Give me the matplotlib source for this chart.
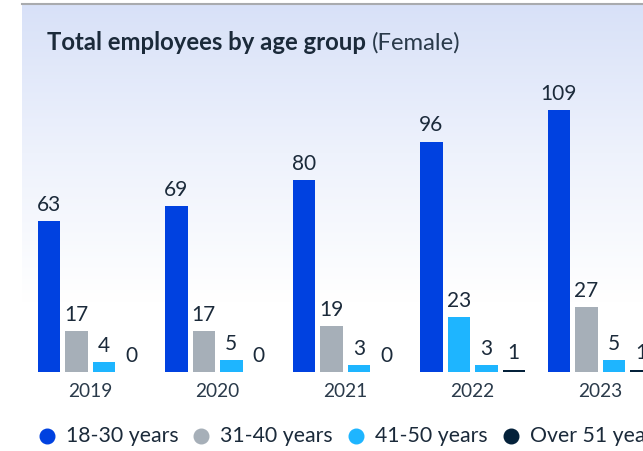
import matplotlib
matplotlib.use("Agg")
import matplotlib.pyplot as plt
import numpy as np
from matplotlib.lines import Line2D
from matplotlib.colors import LinearSegmentedColormap

years = ["2019", "2020", "2021", "2022", "2023"]
series_names = ["18-30 years", "31-40 years", "41-50 years", "Over 51 years"]
v_18_30 = [63, 69, 80, 96, 109]
v_31_40 = [17, 17, 19, 23, 27]
v_41_50 = [4, 5, 3, 3, 5]
v_over51 = [0, 0, 0, 1, 1]
series_colors = ["#0041E0", "#A6AFB8", "#1EB5FF", "#04213A"]
# in the source the 2022 31-40 bar is drawn in the 41-50 colour
bar_color_override = {(1, 3): "#1EB5FF"}

W, H = 643, 451
fig = plt.figure(figsize=(W / 100, H / 100), dpi=100)
plt.rcParams['font.family'] = ['Lato', 'DejaVu Sans']

def fx(px):
    return px / W

def fy(py):
    return 1 - py / H

# background panel with gradient
bg = fig.add_axes([fx(22), 0, 1 - fx(22), fy(4)])
cmap = LinearSegmentedColormap.from_list("g", ["#D8E1F8", "#EEF2FC", "#FFFFFF", "#FFFFFF"], N=256)
grad = np.linspace(0, 1, 256).reshape(-1, 1)
bg.imshow(grad, aspect="auto", cmap=cmap, extent=[0, 1, 0, 1], origin="upper")
bg.set_axis_off()
fig.add_artist(Line2D([fx(22), 1], [fy(3.5), fy(3.5)], color="#A9ABAE", lw=1.5))

# main axes: baseline y=372 px, scale 2.4 px/unit
base_px, top_px = 372, 60
ax = fig.add_axes([fx(22), fy(base_px), 1 - fx(22), (base_px - top_px) / H])
ax.patch.set_alpha(0)
ax.set_ylim(0, (base_px - top_px) / 2.4)
ax.set_xlim((22 - 90) / 127.5, (643 - 90) / 127.5)

pitch = 27.5 / 127.5
width = 22.5 / 127.5
x = np.arange(len(years))
all_vals = [v_18_30, v_31_40, v_41_50, v_over51]
for i, vals in enumerate(all_vals):
    xs = x + (i - 1.5) * pitch
    cols = [bar_color_override.get((i, j), series_colors[i]) for j in range(len(years))]
    ax.bar(xs, vals, width=width, color=cols, zorder=2)
    for xi, v in zip(xs, vals):
        ax.annotate(str(v), (xi, v), xytext=(0, 4.5), textcoords="offset points",
                    ha="center", va="bottom", fontsize=15, color="#1B2A3A")

ax.set_xticks(x)
ax.set_xticklabels(years, fontsize=13.8, color="#2A3A4A")
ax.tick_params(axis="x", length=0, pad=8)
ax.set_yticks([])
for s in ax.spines.values():
    s.set_visible(False)

# title
t1 = fig.text(fx(47), fy(43), "Total employees by age group", fontsize=17.2,
              fontweight="bold", color="#1B2A3A", va="center", ha="left")
fig.canvas.draw()
bb = t1.get_window_extent()
fig.text((bb.x1 + 6) / W, fy(43), "(Female)", fontsize=17.2, color="#2A3A4A",
         va="center", ha="left")

# legend drawn manually at the source's positions
dot_px = [47, 201, 356, 511]
for name, c, dx in zip(series_names, series_colors, dot_px):
    fig.add_artist(Line2D([fx(dx)], [fy(436)], marker="o", ls="", markersize=10.5, color=c))
    fig.text(fx(dx + 19), fy(436), name, fontsize=15.3, color="#1B2A3A",
             va="center", ha="left")

fig.savefig("out.png", dpi=100)
